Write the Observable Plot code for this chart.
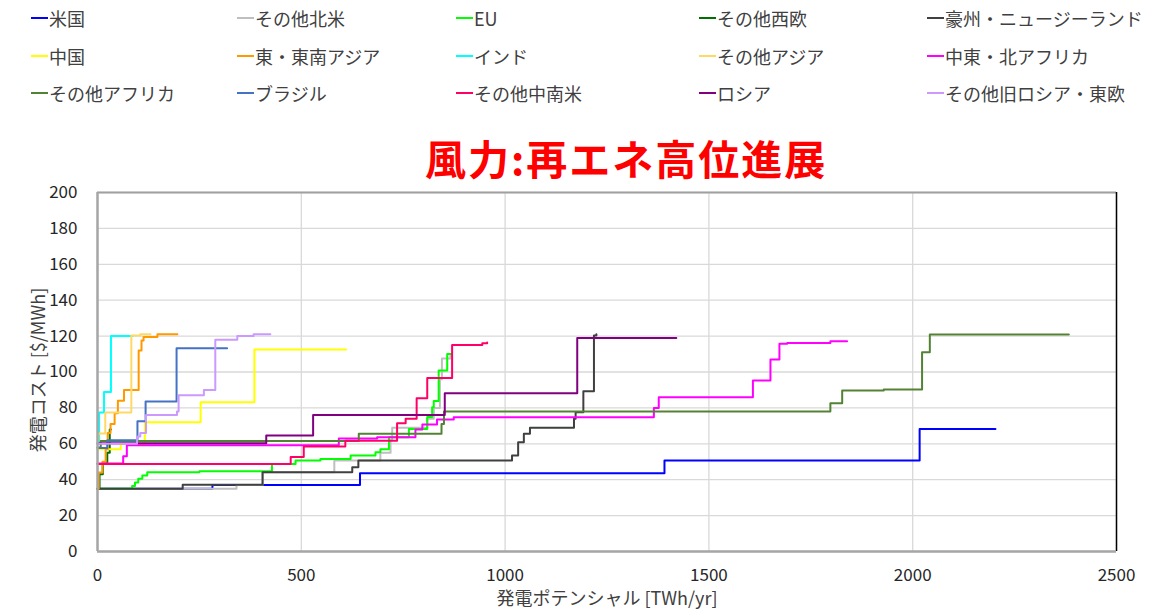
<!DOCTYPE html>
<html>
<head>
<meta charset="utf-8">
<script src="https://cdn.jsdelivr.net/npm/d3@7"></script>
<script src="https://cdn.jsdelivr.net/npm/@observablehq/plot@0.6"></script>
<style>
  html, body { margin: 0; padding: 0; background: #fff; }
  body { width: 1150px; height: 611px; position: relative; overflow: hidden;
         font-family: "Noto Sans CJK JP", "Noto Sans", sans-serif; }
  .item { position: absolute; display: flex; align-items: center; height: 26px;
          font-size: 18px; color: #404040; white-space: nowrap; }
  .sw { width: 17px; height: 2.5px; margin-right: 1px; }
  #title { position: absolute; left: 425px; top: 134px; font-size: 41px; line-height: 46px;
           letter-spacing: 2px; font-weight: bold; color: #ff0000; white-space: nowrap; }
  #chart { position: absolute; left: 0; top: 170px; }
  #ylab { position: absolute; left: -113px; top: 357px; width: 300px; height: 26px; line-height: 26px;
          text-align: center; font-size: 18px; color: #404040; transform: rotate(-90deg); }
  #xlab { position: absolute; left: 407px; top: 586px; width: 400px; height: 22px; line-height: 22px;
          text-align: center; font-size: 18px; color: #404040; }
</style>
</head>
<body>
<div id="legend"></div>
<div id="title">風力:再エネ高位進展</div>
<div id="chart"></div>
<div id="ylab">発電コスト [$/MWh]</div>
<div id="xlab">発電ポテンシャル [TWh/yr]</div>
<script>
// Series names (legend order) and colours
const names = ["米国", "その他北米", "EU", "その他西欧", "豪州・ニュージーランド",
               "中国", "東・東南アジア", "インド", "その他アジア", "中東・北アフリカ",
               "その他アフリカ", "ブラジル", "その他中南米", "ロシア", "その他旧ロシア・東欧"];
const colors = ["#0000ff", "#bfbfbf", "#00ff00", "#007000", "#404040",
                "#ffff00", "#ff9900", "#00ffff", "#ffd966", "#ff00ff",
                "#548235", "#4472c4", "#ff0066", "#800080", "#cc99ff"];

// Step supply curves: [cumulative potential TWh/yr, cost $/MWh]
const usa        = [[0,35],[282,37],[644,43.6],[1391,50.7],[2017,68.3],[2203,68.3]];
const otherNA    = [[0,35],[341,37],[405,44.2],[581,50.7],[694,55],[719,62],[723,69],[809,74],[825,80],[840,96],[845,107.5],[866,110],[870,110]];
const eu         = [[0,35],[85,36.5],[92,38.5],[100,40.5],[110,42.3],[122,44.2],[250,44.7],[428,48.8],[486,50.7],[547,51.6],[621,53.5],[682,55.3],[694,57],[715,63.7],[764,68.3],[809,74.9],[821,80.4],[825,83.8],[837,100.8],[858,110],[870,110]];
const westEU     = [[0,35],[5,43],[13,49],[24,55],[30,68],[33,68]];
const ausNZ      = [[0,35],[209,37.2],[405,44.2],[625,47],[640,50.7],[1017,53.5],[1032,60.9],[1046,65.6],[1061,68.9],[1169,73.9],[1173,77.6],[1192,89.3],[1218,120.3],[1224,121]];
const china      = [[0,57],[57,60],[116,72],[253,83.2],[385,112.5],[610,112.5]];
const seAsia     = [[0,35],[3,44],[12,50],[20,57],[25,66],[32,71],[42,77],[50,84],[65,90],[101,112],[108,117.5],[113,119.5],[147,121],[196,121]];
const india      = [[0,60],[4,77.4],[16,88.8],[33,120],[86,120]];
const otherAsia  = [[0,62],[2,65.7],[19,77.4],[83,120.3],[105,121],[130,121]];
const mena       = [[0,49],[63,53],[72,59.2],[592,63],[686,63.7],[780,68],[797,70.8],[833,73.5],[874,74.8],[1365,80],[1377,86],[1608,95.3],[1651,107],[1673,115.7],[1692,116.1],[1798,117.2],[1839,117.2]];
const otherAfr   = [[0,58],[8,61.5],[641,65.6],[844,71.1],[850,78],[1798,82.6],[1827,89.7],[1929,90.2],[2023,111],[2042,120.9],[2383,120.9]];
const brazil     = [[0,57.6],[24,62],[98,72.6],[118,83.6],[194,113.3],[318,113.3]];
const otherLatAm = [[0,48.8],[474,52.6],[506,58.5],[608,61.7],[735,71.5],[756,73.9],[783,85.4],[809,96.6],[870,115.1],[944,116],[956,116.5]];
const russia     = [[0,60.3],[414,64.6],[529,76.1],[852,88.2],[1177,119],[1420,119]];
const otherFSU   = [[0,60],[97,64],[105,66],[119,76],[195,78],[199,87],[261,90],[289,118],[343,120],[383,121],[424,121]];

const seriesData = [usa, otherNA, eu, westEU, ausNZ, china, seAsia, india, otherAsia,
                    mena, otherAfr, brazil, otherLatAm, russia, otherFSU];

// Tick values
const xTicks = [0, 500, 1000, 1500, 2000, 2500];
const yTicks = [0, 20, 40, 60, 80, 100, 120, 140, 160, 180, 200];

const rows = [];
seriesData.forEach((s, i) => s.forEach(([x, y]) => rows.push({series: names[i], x, y})));

// Legend (5 columns x 3 rows)
const colX = [31, 237, 456, 699, 927];
const rowY = [5, 43, 80];
const legend = document.getElementById("legend");
names.forEach((n, i) => {
  const r = Math.floor(i / 5), c = i % 5;
  const d = document.createElement("div");
  d.className = "item";
  d.style.left = colX[c] + "px";
  d.style.top = rowY[r] + "px";
  d.innerHTML = `<span class="sw" style="background:${colors[i]}"></span><span>${n}</span>`;
  legend.appendChild(d);
});

const plot = Plot.plot({
  width: 1150, height: 441,
  marginTop: 22, marginBottom: 60, marginLeft: 97, marginRight: 34,
  style: {fontFamily: '"Noto Sans CJK JP", "Noto Sans", sans-serif', fontSize: "17px",
          color: "#262626", background: "transparent", overflow: "visible"},
  x: {domain: [0, 2500], label: null},
  y: {domain: [0, 200], label: null},
  color: {domain: names, range: colors},
  marks: [
    Plot.gridY(yTicks, {stroke: "#d9d9d9", strokeOpacity: 1, strokeWidth: 1.3}),
    Plot.gridX(xTicks, {stroke: "#d9d9d9", strokeOpacity: 1, strokeWidth: 1.3}),
    Plot.ruleY([200], {stroke: "#a0a0a0", strokeWidth: 2}),
    Plot.ruleX([2500], {stroke: "#000000", strokeWidth: 1.5}),
    Plot.line(rows, {x: "x", y: "y", z: "series", stroke: "series", curve: "step-after", strokeWidth: 2}),
    Plot.ruleY([0], {stroke: "#a6a6a6", strokeWidth: 2.5}),
    Plot.ruleX([0], {stroke: "#a6a6a6", strokeWidth: 2.5}),
    Plot.axisY({ticks: yTicks, tickSize: 0, tickPadding: 20, fontSize: 17, label: null, tickFormat: d => String(d)}),
    Plot.axisX({ticks: xTicks, tickSize: 0, tickPadding: 17, fontSize: 17, label: null, tickFormat: d => String(d)})
  ]
});
document.getElementById("chart").appendChild(plot);
</script>
</body>
</html>
